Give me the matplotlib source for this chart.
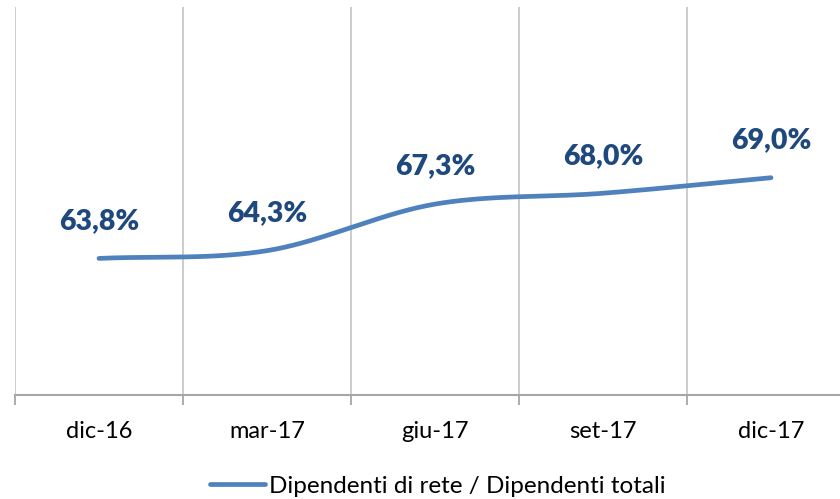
import numpy as np
import matplotlib
matplotlib.use("Agg")
import matplotlib.pyplot as plt

categories = ["dic-16", "mar-17", "giu-17", "set-17", "dic-17"]
values = [63.8, 64.3, 67.3, 68.0, 69.0]
labels = ["63,8%", "64,3%", "67,3%", "68,0%", "69,0%"]
series_name = "Dipendenti di rete / Dipendenti totali"

plt.rcParams['font.family'] = ['Lato', 'DejaVu Sans']

fig = plt.figure(figsize=(8.4, 4.99), dpi=100)
ax = fig.add_axes([15/840, (499-395)/499, 1.0, 388/499])

x = np.arange(len(values), dtype=float)
y = np.array(values, dtype=float)

# Catmull-Rom smoothing through the data points
def catmull(xp, yp, n=40):
    P = np.column_stack([xp, yp])
    P = np.vstack([P[0] - (P[1] - P[0]), P, P[-1] + (P[-1] - P[-2])])
    out = []
    for i in range(1, len(P) - 2):
        p0, p1, p2, p3 = P[i-1], P[i], P[i+1], P[i+2]
        t = np.linspace(0, 1, n)[:, None]
        c = 0.5 * ((2*p1) + (-p0 + p2)*t + (2*p0 - 5*p1 + 4*p2 - p3)*t**2
                   + (-p0 + 3*p1 - 3*p2 + p3)*t**3)
        out.append(c if i == len(P) - 3 else c[:-1])
    c = np.vstack(out)
    return c[:, 0], c[:, 1]

sx, sy = catmull(x, y)
line, = ax.plot(sx, sy, color="#4F81BD", lw=3.4, solid_capstyle="round", label=series_name)

for xi, yi, lab in zip(x, y, labels):
    ax.annotate(lab, (xi, yi), xytext=(0, 27), textcoords="offset points",
                ha="center", va="center", fontsize=20.5, fontweight="heavy", color="#1F497D")

ax.set_xlim(-0.5, len(values) - 0.5)
ax.set_ylim(55, 80)
ax.set_yticks([])
ax.set_xticks(x)
ax.set_xticklabels(categories, fontsize=17, color="black")
ax.set_xticks(np.arange(-0.5, len(values), 1.0), minor=True)
ax.tick_params(axis="x", which="major", length=0, pad=19)
ax.tick_params(axis="x", which="minor", length=7, width=1.3, color="#A6A6A6", direction="out")
ax.grid(True, axis="x", which="minor", color="#C8C8C8", lw=1.3)
ax.grid(False, axis="x", which="major")
for s in ["top", "right", "left"]:
    ax.spines[s].set_visible(False)
ax.spines["bottom"].set_color("#A6A6A6")
ax.spines["bottom"].set_linewidth(1.5)

fig.legend(handles=[line], loc="center", bbox_to_anchor=(0.521, 1 - 486/499),
           frameon=False, fontsize=17.5, handlelength=2.3, handletextpad=0.15)

fig.savefig("out.png", dpi=100)
